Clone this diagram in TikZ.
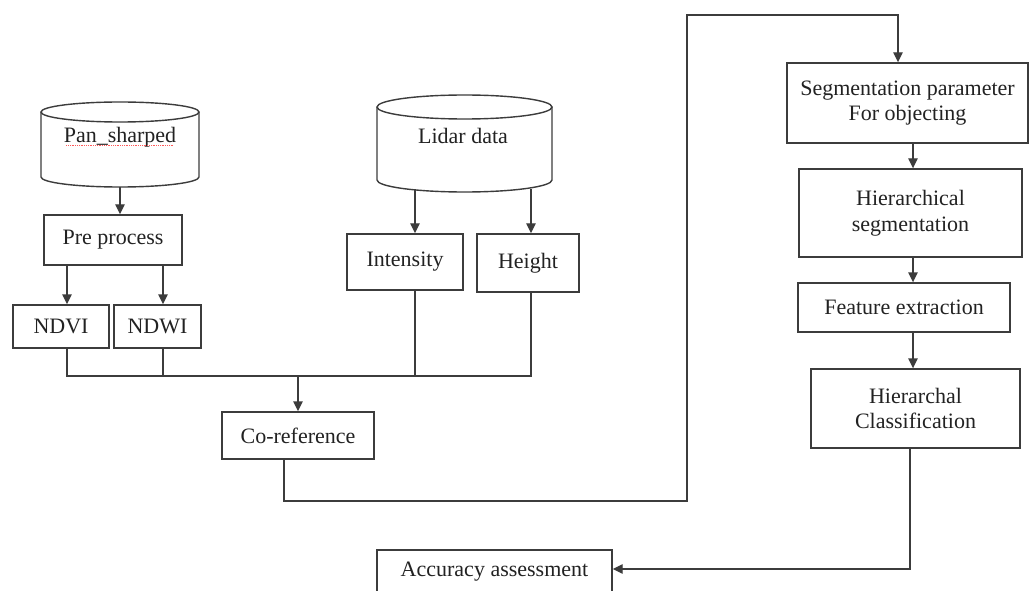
\documentclass[tikz,border=0pt]{standalone}
\usepackage{fontspec}
\setmainfont{Liberation Serif}
\usetikzlibrary{arrows.meta,calc}
\definecolor{lc}{HTML}{3C3C3C}
\definecolor{tc}{HTML}{222222}
\begin{document}
\begin{tikzpicture}[x=1pt,y=-1pt,
  txt/.style={text=tc, font=\fontsize{22}{25.5}\selectfont, align=center},
  box/.style={txt, draw=lc, line width=1.4pt, fill=white, inner sep=0pt},
  ln/.style={draw=lc, line width=1.4pt},
  arr/.style={ln, -{Triangle[length=10pt,width=9.5pt]}},
]
\useasboundingbox (0,0) rectangle (1029,591);
\fill[white] (0,0) rectangle (1029,591);

% helper coordinates
\coordinate (xa) at (67,0);
\coordinate (xb) at (163,0);
\coordinate (xi) at (415,0);
\coordinate (xh) at (531,0);
\coordinate (xc) at (284,0);
\coordinate (xl) at (687,0);
\coordinate (xs) at (898,0);
\coordinate (xr) at (913,0);
\coordinate (xk) at (910,0);
\coordinate (ytop) at (0,15);
\coordinate (ybus) at (0,376);
\coordinate (yloop) at (0,501);
\coordinate (yacc) at (0,569);

% cylinders
\node[inner sep=0pt, minimum width=158, minimum height=85] (pan) at (120,144.5) {};
\draw[ln] (41,112) -- (41,177) arc[start angle=180, end angle=0, x radius=79, y radius=10] -- (199,112);
\draw[ln] (120,112) ellipse[x radius=79, y radius=10];
\node[txt] (pantext) at (120,137) {Pan\_sharped};
\draw[red!65, densely dotted, line width=0.8pt] ($(pantext.base west)+(6,3)$) -- ($(pantext.base east)+(-6,3)$);

\node[inner sep=0pt, minimum width=175, minimum height=97] (lidar) at (464.5,143.5) {};
\draw[ln] (377,107) -- (377,180) arc[start angle=180, end angle=0, x radius=87.5, y radius=12] -- (552,107);
\draw[ln] (464.5,107) ellipse[x radius=87.5, y radius=12];
\node[txt] (lidtext) at (463,136) {Lidar data};

% boxes
\node[box, minimum width=138, minimum height=50] (pre) at (113,240) {Pre process};
\node[box, minimum width=96, minimum height=43] (ndvi) at (61,326.5) {NDVI};
\node[box, minimum width=87, minimum height=43] (ndwi) at (157.5,326.5) {NDWI};
\node[box, minimum width=116, minimum height=56] (int) at (405,262) {Intensity};
\node[box, minimum width=102, minimum height=58] (hgt) at (528,263) {Height};
\node[box, minimum width=152, minimum height=47] (coref) at (298,435.5) {Co-reference};
\node[box, minimum width=235, minimum height=44] (acc) at (494.5,572) {Accuracy assessment};
\node[box, minimum width=241, minimum height=80] (seg) at (907.5,103) {Segmentation parameter\\For objecting};
\node[box, minimum width=223, minimum height=88] (hseg) at (910.5,213) {Hierarchical\\segmentation};
\node[box, minimum width=212, minimum height=49] (feat) at (904,307.5) {Feature extraction};
\node[box, minimum width=209, minimum height=79] (hcls) at (915.5,408.5) {Hierarchal\\Classification};

% connectors
\draw[arr] (pan.south) -- (pan.south |- pre.north);
\draw[arr] (pre.south -| xa) -- (ndvi.north -| xa);
\draw[arr] (pre.south -| xb) -- (ndwi.north -| xb);
\draw[arr] ([yshift=3pt]lidar.south -| xi) -- (int.north -| xi);
\draw[arr] ([yshift=3pt]lidar.south -| xh) -- (hgt.north -| xh);

\draw[ln] (ndvi.south -| xa) -- (xa |- ybus) -- (xh |- ybus) -- (hgt.south -| xh);
\draw[ln] (ndwi.south -| xb) -- (xb |- ybus);
\draw[ln] (int.south -| xi) -- (xi |- ybus);
\draw[arr] (coref.north |- ybus) -- (coref.north);

\draw[arr] (coref.south -| xc) -- (xc |- yloop) -- (xl |- yloop) -- (xl |- ytop) -- (xs |- ytop) -- (seg.north -| xs);
\draw[arr] (seg.south -| xr) -- (hseg.north -| xr);
\draw[arr] (hseg.south -| xr) -- (feat.north -| xr);
\draw[arr] (feat.south -| xr) -- (hcls.north -| xr);
\draw[arr] (hcls.south -| xk) -- (xk |- yacc) -- (acc.east |- yacc);
\end{tikzpicture}
\end{document}
